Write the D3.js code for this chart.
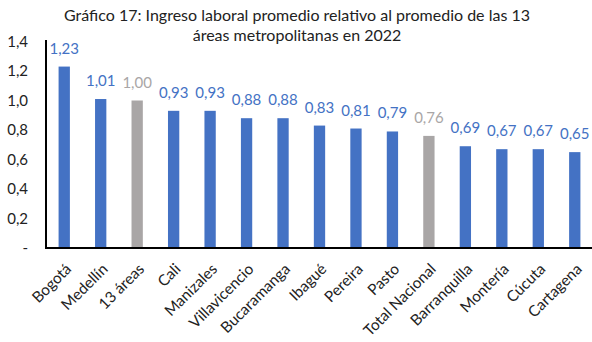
<!DOCTYPE html>
<html><head><meta charset="utf-8">
<script src="https://cdn.jsdelivr.net/npm/d3@7"></script>
<style>body{margin:0;background:#fff}svg{display:block}text{font-family:Lato,"Open Sans",sans-serif}</style>
</head><body><svg id="c" width="592" height="342"></svg>
<script>
const categories = ["Bogotá","Medellín","13 áreas","Cali","Manizales","Villavicencio","Bucaramanga","Ibagué","Pereira","Pasto","Total Nacional","Barranquilla","Montería","Cúcuta","Cartagena"];
const values = [1.23,1.01,1.00,0.93,0.93,0.88,0.88,0.83,0.81,0.79,0.76,0.69,0.67,0.67,0.65];
const highlighted = ["13 áreas","Total Nacional"];
const yTicks = [0,0.2,0.4,0.6,0.8,1.0,1.2,1.4];
const titleLines = ["Gráfico 17: Ingreso laboral promedio relativo al promedio de las 13","áreas metropolitanas en 2022"];

const blue = "#4472C4", grey = "#A9A6A6";
const svg = d3.select("#c");
const m = {left:46, right:-1, top:41.5, bottom:94};
const W = 592, H = 342;
const x = d3.scaleBand().domain(categories).range([m.left, W - m.right]).paddingInner(0.69).paddingOuter(0.345);
const y = d3.scaleLinear().domain([0,1.4]).range([H - m.bottom, m.top]);
const fmt = v => v === 0 ? "-" : d3.format(".1f")(v).replace(".", ",");
const fmt2 = v => d3.format(".2f")(v).replace(".", ",");

svg.selectAll("text.title").data(titleLines).join("text")
  .attr("x", 297).attr("y", (d,i)=>21 + i*20).attr("text-anchor","middle")
  .attr("font-size", 16).attr("fill","#222").text(d=>d);

svg.selectAll("rect.bar").data(values).join("rect")
  .attr("x",(d,i)=>x(categories[i])).attr("width", x.bandwidth())
  .attr("y", d=>y(d)).attr("height", d=>y(0)-y(d))
  .attr("fill",(d,i)=>highlighted.includes(categories[i])?grey:blue);

svg.selectAll("text.lbl").data(values).join("text")
  .attr("x",(d,i)=>x(categories[i])+x.bandwidth()/2).attr("y", d=>y(d)-13)
  .attr("text-anchor","middle").attr("font-size",15)
  .attr("fill",(d,i)=>highlighted.includes(categories[i])?grey:blue).text(fmt2);

const ya = svg.append("g").attr("transform",`translate(${m.left},0)`)
  .call(d3.axisLeft(y).tickValues(yTicks).tickFormat(fmt).tickSize(0).tickPadding(18));
ya.select(".domain").attr("stroke","#000").attr("stroke-width",2).attr("d",`M0,${y(0)}V${y(1.4)-1.5}`);
ya.selectAll("text").attr("font-size",15).attr("fill","#222").attr("font-family","Lato,sans-serif");

const xa = svg.append("g").attr("transform",`translate(0,${y(0)})`)
  .call(d3.axisBottom(x).tickSize(0).tickPadding(0));
xa.select(".domain").attr("stroke","#000").attr("stroke-width",2).attr("d",`M${m.left-1},0H${W}`);
xa.selectAll("text").attr("font-size",15.3).attr("fill","#222").attr("font-family","Lato,sans-serif")
  .attr("text-anchor","end").attr("dy",0).attr("y",0)
  .attr("transform","translate(8,22) rotate(-45)");
</script></body></html>
